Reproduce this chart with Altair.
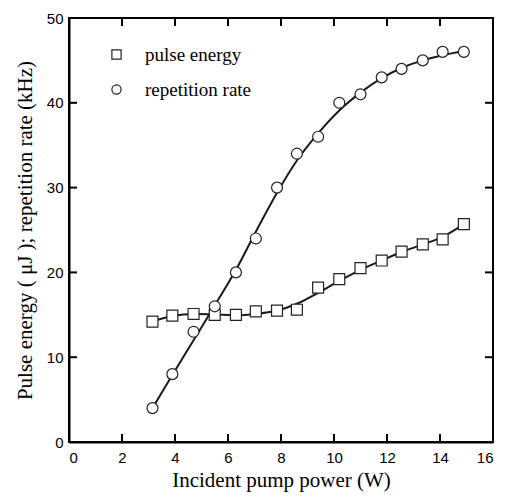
import altair as alt
import pandas as pd

# ---- data ----
power = [3.15, 3.9, 4.7, 5.5, 6.3, 7.05, 7.85, 8.6, 9.4, 10.2, 11.0, 11.8, 12.55, 13.35, 14.1, 14.9]
pulse_energy = [14.2, 14.9, 15.1, 15.0, 15.0, 15.4, 15.5, 15.6, 18.2, 19.2, 20.5, 21.4, 22.45, 23.3, 23.9, 25.7]
rep_rate = [4, 8, 13, 16, 20, 24, 30, 34, 36, 40, 41, 43, 44, 45, 46, 46]

# fitted (smooth) curves
fit_power = [3.15, 3.9, 4.7, 5.5, 6.3, 7.05, 7.85, 8.6, 9.4, 10.2, 11.0, 11.8, 12.55, 13.35, 14.1, 14.9]
fit_energy = [14.2, 14.85, 15.1, 15.05, 14.95, 15.1, 15.5, 16.3, 17.6, 19.0, 20.3, 21.4, 22.4, 23.3, 24.2, 25.7]
fit_rate = [4.0, 7.9, 12.0, 16.1, 20.3, 24.8, 29.4, 33.2, 36.4, 39.1, 41.2, 42.9, 44.1, 45.0, 45.6, 46.1]

series_names = ["pulse energy", "repetition rate"]
x_tick_values = [2, 4, 6, 8, 10, 12, 14]
y_tick_values = [10, 20, 30, 40]
x_label_values = [0, 2, 4, 6, 8, 10, 12, 14, 16]
y_label_values = [0, 10, 20, 30, 40, 50]

W, H = 424, 424
TICK = 8

points = pd.DataFrame({
    "power": power + power,
    "value": pulse_energy + rep_rate,
    "series": [series_names[0]] * len(power) + [series_names[1]] * len(power),
})
fits = pd.DataFrame({
    "power": fit_power + fit_power,
    "value": fit_energy + fit_rate,
    "series": [series_names[0]] * len(fit_power) + [series_names[1]] * len(fit_power),
})
xt = pd.DataFrame({"power": x_tick_values})
yt = pd.DataFrame({"value": y_tick_values})

xscale = alt.Scale(domain=[0, 16], nice=False, zero=False)
yscale = alt.Scale(domain=[0, 50], nice=False, zero=False)
xaxis = alt.Axis(values=x_label_values, title="Incident pump power (W)", labelPadding=8, titlePadding=4)
yaxis = alt.Axis(values=y_label_values, title="Pulse energy ( \u03bcJ ); repetition rate (kHz)",
                 labelPadding=6, titlePadding=11)

X = alt.X("power:Q", scale=xscale, axis=xaxis)
Y = alt.Y("value:Q", scale=yscale, axis=yaxis)

lines = alt.Chart(fits).mark_line(interpolate="monotone", color="#1a1a1a", strokeWidth=2).encode(
    x=X, y=Y, detail="series:N"
)

legend = alt.Legend(
    title=None, orient="none", legendX=38, legendY=27,
    labelFont="Liberation Serif", labelFontSize=19, labelColor="black",
    labelOffset=19, rowPadding=15, symbolSize=85,
    symbolFillColor="white", symbolStrokeColor="#222222",
    symbolStrokeWidth=1.2, symbolOpacity=1,
)

pts = alt.Chart(points).mark_point(filled=False, fill="white", fillOpacity=1,
                                   strokeWidth=1.2, size=120, opacity=1).encode(
    x=X, y=Y,
    shape=alt.Shape("series:N", scale=alt.Scale(domain=series_names, range=["square", "circle"]),
                    legend=legend),
    color=alt.Color("series:N", scale=alt.Scale(domain=series_names, range=["#222222", "#222222"]),
                    legend=legend),
)

xt_bottom = alt.Chart(xt).mark_rule(color="black", strokeWidth=2).encode(
    x=X, y=alt.value(H), y2=alt.value(H - TICK))
xt_top = alt.Chart(xt).mark_rule(color="black", strokeWidth=2).encode(
    x=X, y=alt.value(0), y2=alt.value(TICK))
yt_left = alt.Chart(yt).mark_rule(color="black", strokeWidth=2).encode(
    y=Y, x=alt.value(0), x2=alt.value(TICK))
yt_right = alt.Chart(yt).mark_rule(color="black", strokeWidth=2).encode(
    y=Y, x=alt.value(W), x2=alt.value(W - TICK))

chart = alt.layer(lines, pts, xt_bottom, xt_top, yt_left, yt_right).properties(
    width=W, height=H,
    background="white",
    autosize=alt.AutoSizeParams(type="none"),
    padding={"left": 61, "top": 10, "right": 4, "bottom": 52},
).configure_view(
    stroke="black", strokeWidth=2
).configure_axis(
    grid=False, ticks=False, domain=True, domainColor="black", domainWidth=2,
    labelFont="Liberation Sans", labelFontSize=15, labelColor="black",
    titleFont="Liberation Serif", titleFontSize=21, titleFontWeight="normal", titleColor="black",
).configure_legend(
    labelFont="Liberation Serif", labelFontSize=19, labelColor="black",
)

chart.save("out.html", embed_options={"renderer": "svg", "actions": False})
